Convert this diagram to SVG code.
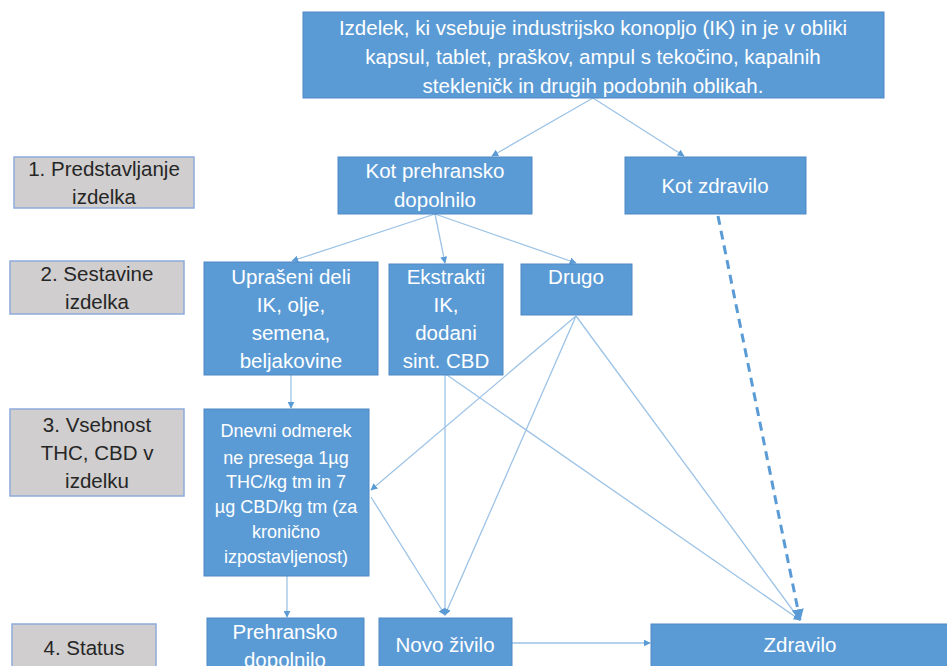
<svg xmlns="http://www.w3.org/2000/svg" width="947" height="666" viewBox="0 0 947 666">
<style>
.n{fill:#5B9BD5;stroke:#4F88C6;stroke-width:1}
.l{fill:#D0CECE;stroke:#8FAADC;stroke-width:1.5}
.t{font-family:"Liberation Sans",Arial,sans-serif;font-size:20.5px;fill:#FFFFFF;text-anchor:middle}
.s{font-family:"Liberation Sans",Arial,sans-serif;font-size:18px;fill:#FFFFFF;text-anchor:middle}
.d{font-family:"Liberation Sans",Arial,sans-serif;font-size:20.5px;fill:#262626;text-anchor:middle}
.c{fill:none;stroke:#9DC3E6;stroke-width:1.3;marker-end:url(#a)}
.dash{fill:none;stroke:#5B9BD5;stroke-width:3;stroke-dasharray:9 6;marker-end:url(#a2)}
</style>
<defs>
<marker id="a" viewBox="0 0 10 10" refX="9" refY="5" markerWidth="7" markerHeight="7" markerUnits="userSpaceOnUse" orient="auto"><path d="M0,0 L10,5 L0,10 z" fill="#5B9BD5"/></marker>
<marker id="a2" viewBox="0 0 10 10" refX="9" refY="5" markerWidth="4" markerHeight="4" orient="auto"><path d="M0,0 L10,5 L0,10 z" fill="#5B9BD5"/></marker>
</defs>
<rect width="947" height="666" fill="#FFFFFF"/>
<g id="connectors">
<path class="c" d="M593,98 L492,156"/>
<path class="c" d="M593,98 L684,156"/>
<path class="c" d="M435,214 L292,261"/>
<path class="c" d="M435,214 L445,263"/>
<path class="c" d="M435,214 L576,263"/>
<path class="c" d="M291,375 L291,408"/>
<path class="c" d="M287,576 L287,617"/>
<path class="c" d="M576,316 L371,490"/>
<path class="c" d="M371,497 L445,615"/>
<path class="c" d="M445,375 L445,615"/>
<path class="c" d="M576,316 L445,615"/>
<path class="c" d="M447,375 L800,620"/>
<path class="c" d="M576,316 L800,620"/>
<path class="c" d="M512,643 L650,643"/>
<path class="dash" d="M718,216 L800,620"/>
</g>
<g id="top"><rect class="n" x="303" y="12" width="581" height="86"/>
<text class="t" x="593" y="35">Izdelek, ki vsebuje industrijsko konopljo (IK)  in je v obliki</text>
<text class="t" x="593" y="64">kapsul, tablet, praškov, ampul s tekočino, kapalnih</text>
<text class="t" x="593" y="93">stekleničk in drugih podobnih oblikah.</text></g>
<g id="label1"><rect class="l" x="14" y="157" width="180" height="51"/>
<text class="d" x="104" y="176">1. Predstavljanje</text><text class="d" x="104" y="204">izdelka</text></g>
<g id="kotprehransko"><rect class="n" x="338" y="157" width="194" height="57"/>
<text class="t" x="435" y="178">Kot prehransko</text><text class="t" x="435" y="207">dopolnilo</text></g>
<g id="kotzdravilo"><rect class="n" x="625" y="157" width="181" height="57"/>
<text class="t" x="715" y="193">Kot zdravilo</text></g>
<g id="label2"><rect class="l" x="10" y="261" width="174" height="53"/>
<text class="d" x="97" y="281">2. Sestavine</text><text class="d" x="97" y="309">izdelka</text></g>
<g id="uprali"><rect class="n" x="204" y="262" width="174" height="113"/>
<text class="t" x="291" y="284">Uprašeni deli</text><text class="t" x="291" y="312">IK, olje,</text><text class="t" x="291" y="340">semena,</text><text class="t" x="291" y="368">beljakovine</text></g>
<g id="ekstrakti"><rect class="n" x="389" y="264" width="114" height="111"/>
<text class="t" x="446" y="284">Ekstrakti</text><text class="t" x="446" y="312">IK,</text><text class="t" x="446" y="340">dodani</text><text class="t" x="446" y="368">sint. CBD</text></g>
<g id="drugo"><rect class="n" x="521" y="264" width="111" height="51"/>
<text class="t" x="576" y="284">Drugo</text></g>
<g id="label3"><rect class="l" x="10" y="409" width="174" height="87"/>
<text class="d" x="97" y="432">3. Vsebnost</text><text class="d" x="97" y="460">THC, CBD v</text><text class="d" x="97" y="488">izdelku</text></g>
<g id="dnevni"><rect class="n" x="204" y="409" width="165" height="167"/>
<text class="s" x="286" y="437">Dnevni odmerek</text><text class="s" x="286" y="464">ne presega 1µg</text><text class="s" x="286" y="488">THC/kg tm in 7</text><text class="s" x="286" y="513">µg CBD/kg tm (za</text><text class="s" x="286" y="538">kronično</text><text class="s" x="286" y="563">izpostavljenost)</text></g>
<g id="label4"><rect class="l" x="12" y="624" width="144" height="50"/>
<text class="d" x="84" y="655">4. Status</text></g>
<g id="prehransko"><rect class="n" x="207" y="618" width="157" height="56"/>
<text class="t" x="285" y="639">Prehransko</text><text class="t" x="285" y="667">dopolnilo</text></g>
<g id="novozivilo"><rect class="n" x="379" y="618" width="133" height="56"/>
<text class="t" x="445" y="652">Novo živilo</text></g>
<g id="zdravilo"><rect class="n" x="651" y="624" width="300" height="50"/>
<text class="t" x="800" y="652">Zdravilo</text></g>
</svg>
